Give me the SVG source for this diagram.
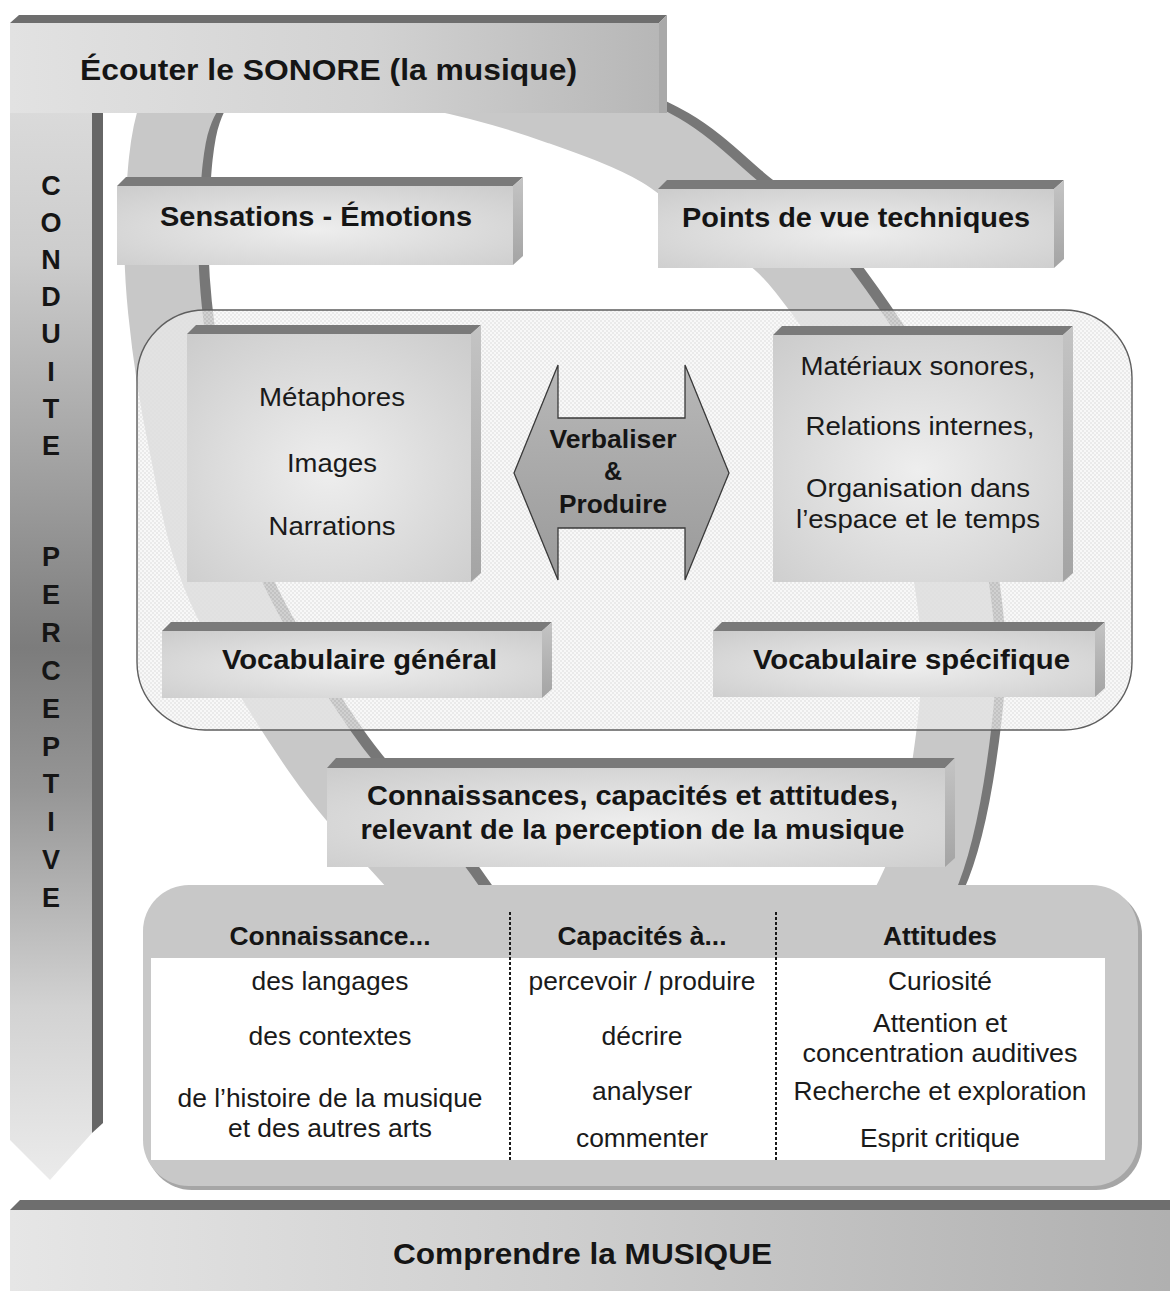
<svg xmlns="http://www.w3.org/2000/svg" width="1170" height="1291" viewBox="0 0 1170 1291">
<defs>
<style>
.tb{font-family:"Liberation Sans",Arial,sans-serif;font-weight:bold;fill:#151515}
.tr{font-family:"Liberation Sans",Arial,sans-serif;fill:#1a1a1a}
.face{fill:url(#face)}
.top{fill:#7a7a7a}
.side{fill:url(#side)}
</style>
<radialGradient id="face" cx="0.5" cy="0.55" r="0.75">
<stop offset="0" stop-color="#eeeeee"/>
<stop offset="1" stop-color="#cbcbcb"/>
</radialGradient>
<linearGradient id="side" x1="0" y1="0" x2="0" y2="1">
<stop offset="0" stop-color="#c4c4c4"/>
<stop offset="1" stop-color="#a4a4a4"/>
</linearGradient>
<linearGradient id="hdr" gradientUnits="userSpaceOnUse" x1="10" y1="0" x2="667" y2="0">
<stop offset="0" stop-color="#e2e2e2"/>
<stop offset="0.55" stop-color="#d2d2d2"/>
<stop offset="1" stop-color="#b6b6b6"/>
</linearGradient>
<linearGradient id="arr" gradientUnits="userSpaceOnUse" x1="0" y1="23" x2="0" y2="1180">
<stop offset="0" stop-color="#e2e2e2"/>
<stop offset="0.2" stop-color="#cdcdcd"/>
<stop offset="0.42" stop-color="#999999"/>
<stop offset="0.54" stop-color="#7c7c7c"/>
<stop offset="0.66" stop-color="#959595"/>
<stop offset="0.85" stop-color="#d2d2d2"/>
<stop offset="1" stop-color="#ebebeb"/>
</linearGradient>
<linearGradient id="ftr" gradientUnits="userSpaceOnUse" x1="10" y1="0" x2="1170" y2="0">
<stop offset="0" stop-color="#e6e6e6"/>
<stop offset="0.5" stop-color="#cdcdcd"/>
<stop offset="1" stop-color="#b0b0b0"/>
</linearGradient>
<linearGradient id="dbl" x1="0" y1="0" x2="0" y2="1">
<stop offset="0" stop-color="#b8b8b8"/>
<stop offset="1" stop-color="#9a9a9a"/>
</linearGradient>
<pattern id="dots" width="4" height="4" patternUnits="userSpaceOnUse">
<rect width="4" height="4" fill="#f3f3f3" fill-opacity="0.6"/>
<rect width="2" height="2" fill="#dedede" fill-opacity="0.55"/>
<rect x="2" y="2" width="2" height="2" fill="#dedede" fill-opacity="0.55"/>
</pattern>
</defs>

<rect width="1170" height="1291" fill="#ffffff"/>

<g id="ring" fill="none" stroke-width="74">
<path transform="translate(10,-5)" stroke="#777777" d="M175,115 C184.3,89.5 193.8,77.5 218,68 C242.2,58.5 283,62.3 320,64 C357,65.7 400,65.7 440,74 C480,82.3 523.3,95 560,108 C596.7,121 630.8,133 660,150 C689.2,167 710.8,190 735,210 C759.2,230 775,231.7 805,270 C835,308.3 890.3,386.2 915,440 C939.7,493.8 946.3,546.3 953,593 C959.7,639.7 960.5,672.2 955,720 C949.5,767.8 939.2,837.5 920,880 C900.8,922.5 885,953.3 840,975 C795,996.7 706.7,1012.5 650,1010 C593.3,1007.5 537.8,982.8 500,960 C462.2,937.2 452.8,907.5 423,873 C393.2,838.5 354.3,801 321,753 C287.7,705 245.7,637.2 223,585 C200.3,532.8 194.7,485.8 185,440 C175.3,394.2 168.8,347.5 165,310 C161.2,272.5 160.3,247.5 162,215 C163.7,182.5 165.7,140.5 175,115 Z"/>
<path stroke="#c8c8c8" d="M175,115 C184.3,89.5 193.8,77.5 218,68 C242.2,58.5 283,62.3 320,64 C357,65.7 400,65.7 440,74 C480,82.3 523.3,95 560,108 C596.7,121 630.8,133 660,150 C689.2,167 710.8,190 735,210 C759.2,230 775,231.7 805,270 C835,308.3 890.3,386.2 915,440 C939.7,493.8 946.3,546.3 953,593 C959.7,639.7 960.5,672.2 955,720 C949.5,767.8 939.2,837.5 920,880 C900.8,922.5 885,953.3 840,975 C795,996.7 706.7,1012.5 650,1010 C593.3,1007.5 537.8,982.8 500,960 C462.2,937.2 452.8,907.5 423,873 C393.2,838.5 354.3,801 321,753 C287.7,705 245.7,637.2 223,585 C200.3,532.8 194.7,485.8 185,440 C175.3,394.2 168.8,347.5 165,310 C161.2,272.5 160.3,247.5 162,215 C163.7,182.5 165.7,140.5 175,115 Z"/>
</g>

<g id="conduite">
<polygon points="10,23 92,23 92,1133 50,1180 10,1140" fill="url(#arr)"/>
<polygon points="92,113 103,113 103,1123 92,1133" fill="#666666"/>
<g class="tb" font-size="27" text-anchor="middle">
<text x="51" y="194.5">C</text>
<text x="51" y="231.7">O</text>
<text x="51" y="268.9">N</text>
<text x="51" y="306.1">D</text>
<text x="51" y="343.3">U</text>
<text x="51" y="380.5">I</text>
<text x="51" y="417.7">T</text>
<text x="51" y="454.9">E</text>
<text x="51" y="566">P</text>
<text x="51" y="603.9">E</text>
<text x="51" y="641.8">R</text>
<text x="51" y="679.7">C</text>
<text x="51" y="717.6">E</text>
<text x="51" y="755.5">P</text>
<text x="51" y="793.4">T</text>
<text x="51" y="831.3">I</text>
<text x="51" y="869.2">V</text>
<text x="51" y="907.1">E</text>
</g>
</g>

<g id="ecouter">
<rect x="10" y="23" width="657" height="90" fill="url(#hdr)"/>
<polygon points="10,23 19,15 667,15 659,23" fill="#6e6e6e"/>
<polygon points="659,23 667,15 667,113 659,113" fill="#a9a9a9"/>
<text class="tb" x="80" y="80" font-size="30" textLength="497" lengthAdjust="spacingAndGlyphs">Écouter le SONORE (la musique)</text>
</g>

<g id="sensations">
<rect class="face" x="117" y="186" width="396" height="79"/>
<polygon class="top" points="117,186 126,177 523,177 513,186"/>
<polygon class="side" points="513,186 523,177 523,256 513,265"/>
<text class="tb" x="316" y="226" font-size="28" text-anchor="middle" textLength="312" lengthAdjust="spacingAndGlyphs">Sensations - Émotions</text>
</g>

<g id="points-de-vue">
<rect class="face" x="658" y="189" width="396" height="79"/>
<polygon class="top" points="658,189 667,180 1064,180 1054,189"/>
<polygon class="side" points="1054,189 1064,180 1064,259 1054,268"/>
<text class="tb" x="856" y="227" font-size="28" text-anchor="middle" textLength="348" lengthAdjust="spacingAndGlyphs">Points de vue techniques</text>
</g>

<g id="panel">
<rect x="137" y="310" width="995" height="420" rx="68" ry="68" fill="url(#dots)" stroke="#5e5e5e" stroke-width="1.4"/>
</g>

<g id="images">
<rect class="face" x="187" y="334" width="284" height="248"/>
<polygon class="top" points="187,334 196,325 481,325 471,334"/>
<polygon class="side" points="471,334 481,325 481,573 471,582"/>
<g class="tr" font-size="26.5" text-anchor="middle">
<text x="332" y="406" textLength="146" lengthAdjust="spacingAndGlyphs">Métaphores</text>
<text x="332" y="472" textLength="90" lengthAdjust="spacingAndGlyphs">Images</text>
<text x="332" y="535" textLength="127" lengthAdjust="spacingAndGlyphs">Narrations</text>
</g>
</g>

<g id="materiaux">
<rect class="face" x="773" y="335" width="290" height="247"/>
<polygon class="top" points="773,335 782,326 1073,326 1063,335"/>
<polygon class="side" points="1063,335 1073,326 1073,573 1063,582"/>
<g class="tr" font-size="26.5" text-anchor="middle">
<text x="918" y="375" textLength="235" lengthAdjust="spacingAndGlyphs">Matériaux sonores,</text>
<text x="920" y="435" textLength="229" lengthAdjust="spacingAndGlyphs">Relations internes,</text>
<text x="918" y="497" textLength="224" lengthAdjust="spacingAndGlyphs">Organisation dans</text>
<text x="918" y="528" textLength="244" lengthAdjust="spacingAndGlyphs">l’espace et le temps</text>
</g>
</g>

<g id="connectors">
<polygon points="514,473 558,365 558,418 685,418 685,365 729,473 685,580 685,528 558,528 558,580" fill="url(#dbl)" stroke="#3a3a3a" stroke-width="1.3" stroke-linejoin="miter"/>
<g class="tb" font-size="25" text-anchor="middle" fill="#222222">
<text x="613" y="448" textLength="127" lengthAdjust="spacingAndGlyphs">Verbaliser</text>
<text x="613" y="480">&amp;</text>
<text x="613" y="513" textLength="108" lengthAdjust="spacingAndGlyphs">Produire</text>
</g>
</g>

<g id="vocabulaire-general">
<rect class="face" x="162" y="631" width="380" height="67"/>
<polygon class="top" points="162,631 171,622 552,622 542,631"/>
<polygon class="side" points="542,631 552,622 552,689 542,698"/>
<text class="tb" x="359.5" y="669" font-size="28" text-anchor="middle" textLength="275" lengthAdjust="spacingAndGlyphs">Vocabulaire général</text>
</g>

<g id="vocabulaire-specifique">
<rect class="face" x="713" y="631" width="382" height="66"/>
<polygon class="top" points="713,631 722,622 1105,622 1095,631"/>
<polygon class="side" points="1095,631 1105,622 1105,688 1095,697"/>
<text class="tb" x="911.5" y="669" font-size="28" text-anchor="middle" textLength="317" lengthAdjust="spacingAndGlyphs">Vocabulaire spécifique</text>
</g>

<g id="connaissances">
<rect class="face" x="327" y="768" width="618" height="99"/>
<polygon class="top" points="327,768 336,758 955,758 945,768"/>
<polygon class="side" points="945,768 955,758 955,858 945,867"/>
<text class="tb" x="632.5" y="805" font-size="28" text-anchor="middle" textLength="531" lengthAdjust="spacingAndGlyphs">Connaissances, capacités et attitudes,</text>
<text class="tb" x="632.5" y="839" font-size="28" text-anchor="middle" textLength="544" lengthAdjust="spacingAndGlyphs">relevant de la perception de la musique</text>
</g>

<g id="tableau">
<rect x="146" y="889" width="996" height="301" rx="46" ry="46" fill="#a6a6a6"/>
<rect x="143" y="885" width="995" height="301" rx="46" ry="46" fill="#c8c8c8"/>
<rect x="151" y="958" width="954" height="202" fill="#ffffff"/>
<line x1="510" y1="912" x2="510" y2="1160" stroke="#1a1a1a" stroke-width="2" stroke-dasharray="3 2"/>
<line x1="776" y1="912" x2="776" y2="1160" stroke="#1a1a1a" stroke-width="2" stroke-dasharray="3 2"/>
<g class="tb" font-size="25" text-anchor="middle" fill="#222222">
<text x="330" y="945" textLength="201" lengthAdjust="spacingAndGlyphs">Connaissance...</text>
<text x="642" y="945" textLength="169" lengthAdjust="spacingAndGlyphs">Capacités à...</text>
<text x="940" y="945" textLength="114" lengthAdjust="spacingAndGlyphs">Attitudes</text>
</g>
<g class="tr" font-size="25" text-anchor="middle">
<text x="330" y="990" textLength="157" lengthAdjust="spacingAndGlyphs">des langages</text>
<text x="330" y="1045" textLength="163" lengthAdjust="spacingAndGlyphs">des contextes</text>
<text x="330" y="1107" textLength="305" lengthAdjust="spacingAndGlyphs">de l’histoire de la musique</text>
<text x="330" y="1137" textLength="204" lengthAdjust="spacingAndGlyphs">et des autres arts</text>
<text x="642" y="990" textLength="227" lengthAdjust="spacingAndGlyphs">percevoir / produire</text>
<text x="642" y="1045" textLength="81" lengthAdjust="spacingAndGlyphs">décrire</text>
<text x="642" y="1100" textLength="100" lengthAdjust="spacingAndGlyphs">analyser</text>
<text x="642" y="1147" textLength="132" lengthAdjust="spacingAndGlyphs">commenter</text>
<text x="940" y="990" textLength="104" lengthAdjust="spacingAndGlyphs">Curiosité</text>
<text x="940" y="1032" textLength="134" lengthAdjust="spacingAndGlyphs">Attention et</text>
<text x="940" y="1062" textLength="275" lengthAdjust="spacingAndGlyphs">concentration auditives</text>
<text x="940" y="1100" textLength="293" lengthAdjust="spacingAndGlyphs">Recherche et exploration</text>
<text x="940" y="1147" textLength="160" lengthAdjust="spacingAndGlyphs">Esprit critique</text>
</g>
</g>

<g id="comprendre">
<rect x="10" y="1210" width="1160" height="81" fill="url(#ftr)"/>
<polygon points="10,1210 20,1200 1170,1200 1170,1210" fill="#6e6e6e"/>
<text class="tb" x="582.5" y="1264" font-size="30" text-anchor="middle" textLength="379" lengthAdjust="spacingAndGlyphs">Comprendre la MUSIQUE</text>
</g>
</svg>
